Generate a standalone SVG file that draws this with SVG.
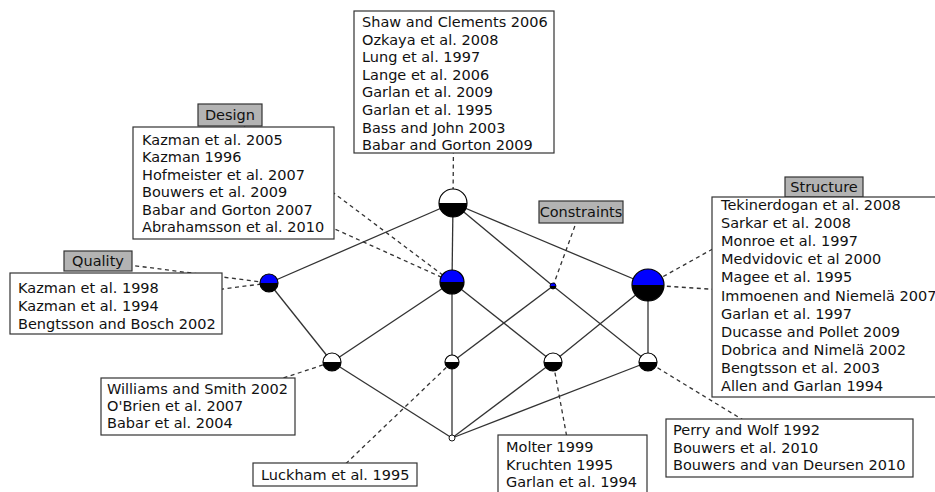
<svg xmlns="http://www.w3.org/2000/svg" width="935" height="492" viewBox="0 0 935 492">
<style>
.e{stroke:#333;stroke-width:1.3;fill:none}
.d{stroke:#333;stroke-width:1.3;fill:none;stroke-dasharray:4 3.5}
.box{fill:#fff;stroke:#333;stroke-width:1.2}
.lab{fill:#b3b3b3;stroke:#333;stroke-width:1.2}
text{font-family:"DejaVu Sans","Liberation Sans",sans-serif;font-size:14.5px;fill:#111}
.c{text-anchor:middle}
.w{fill:#fff}
.b{fill:#0000ff}
.k{fill:#000}
.o{fill:none;stroke:#000;stroke-width:1.2}
</style>
<rect width="935" height="492" fill="#fff"/>
<g id="connectors">
<line class="d" x1="454" y1="82" x2="453" y2="203"/>
<line class="d" x1="230" y1="115" x2="452" y2="282"/>
<line class="d" x1="233" y1="183" x2="452" y2="282"/>
<line class="d" x1="98" y1="261" x2="269" y2="283"/>
<line class="d" x1="116" y1="303" x2="269" y2="283"/>
<line class="d" x1="580" y1="212" x2="553" y2="286"/>
<line class="d" x1="824" y1="187" x2="648" y2="285"/>
<line class="d" x1="828" y1="297" x2="648" y2="285"/>
<line class="d" x1="198" y1="406" x2="332" y2="362"/>
<line class="d" x1="335" y1="474" x2="452" y2="362"/>
<line class="d" x1="572" y1="465" x2="553" y2="362"/>
<line class="d" x1="789" y1="448" x2="648" y2="362"/>
<line class="e" x1="453" y1="203" x2="269" y2="283"/>
<line class="e" x1="453" y1="203" x2="452" y2="282"/>
<line class="e" x1="453" y1="203" x2="553" y2="286"/>
<line class="e" x1="453" y1="203" x2="648" y2="285"/>
<line class="e" x1="269" y1="283" x2="332" y2="362"/>
<line class="e" x1="452" y1="282" x2="332" y2="362"/>
<line class="e" x1="452" y1="282" x2="452" y2="362"/>
<line class="e" x1="452" y1="282" x2="553" y2="362"/>
<line class="e" x1="553" y1="286" x2="452" y2="362"/>
<line class="e" x1="553" y1="286" x2="648" y2="362"/>
<line class="e" x1="648" y1="285" x2="553" y2="362"/>
<line class="e" x1="648" y1="285" x2="648" y2="362"/>
<line class="e" x1="332" y1="362" x2="452" y2="438"/>
<line class="e" x1="452" y1="362" x2="452" y2="438"/>
<line class="e" x1="553" y1="362" x2="452" y2="438"/>
<line class="e" x1="648" y1="362" x2="452" y2="438"/>
</g>
<g id="n-top">
<path class="w" d="M439,203 A14,14 0 0 1 467,203 Z"/>
<path class="k" d="M439,203 A14,14 0 0 0 467,203 Z"/>
<circle class="o" cx="453" cy="203" r="14"/>
</g>
<g id="n-quality">
<path class="b" d="M260,283 A9,9 0 0 1 278,283 Z"/>
<path class="k" d="M260,283 A9,9 0 0 0 278,283 Z"/>
<circle class="o" cx="269" cy="283" r="9"/>
</g>
<g id="n-design">
<path class="b" d="M440,282 A12,12 0 0 1 464,282 Z"/>
<path class="k" d="M440,282 A12,12 0 0 0 464,282 Z"/>
<circle class="o" cx="452" cy="282" r="12"/>
</g>
<g id="n-constraints">
<path class="b" d="M550,286 A3,3 0 0 1 556,286 Z"/>
<path class="k" d="M550,286 A3,3 0 0 0 556,286 Z"/>
<circle class="o" cx="553" cy="286" r="3" style="stroke-width:0.8"/>
</g>
<g id="n-structure">
<path class="b" d="M632,285 A16,16 0 0 1 664,285 Z"/>
<path class="k" d="M632,285 A16,16 0 0 0 664,285 Z"/>
<circle class="o" cx="648" cy="285" r="16"/>
</g>
<g id="n-ll">
<path class="w" d="M323,362 A9,9 0 0 1 341,362 Z"/>
<path class="k" d="M323,362 A9,9 0 0 0 341,362 Z"/>
<circle class="o" cx="332" cy="362" r="9"/>
</g>
<g id="n-lm1">
<path class="w" d="M445,362 A7,7 0 0 1 459,362 Z"/>
<path class="k" d="M445,362 A7,7 0 0 0 459,362 Z"/>
<circle class="o" cx="452" cy="362" r="7"/>
</g>
<g id="n-lm2">
<path class="w" d="M544,362 A9,9 0 0 1 562,362 Z"/>
<path class="k" d="M544,362 A9,9 0 0 0 562,362 Z"/>
<circle class="o" cx="553" cy="362" r="9"/>
</g>
<g id="n-lr">
<path class="w" d="M639,362 A9,9 0 0 1 657,362 Z"/>
<path class="k" d="M639,362 A9,9 0 0 0 657,362 Z"/>
<circle class="o" cx="648" cy="362" r="9"/>
</g>
<g id="n-bottom">
<circle cx="452" cy="438" r="3" fill="#fff" stroke="#000" stroke-width="0.9"/>
</g>
<g id="box-top">
<rect class="box" x="354" y="11" width="200" height="142"/>
<text x="362" y="27">Shaw and Clements 2006</text>
<text x="362" y="44.6">Ozkaya et al. 2008</text>
<text x="362" y="62.2">Lung et al. 1997</text>
<text x="362" y="79.8">Lange et al. 2006</text>
<text x="362" y="97.4">Garlan et al. 2009</text>
<text x="362" y="115">Garlan et al. 1995</text>
<text x="362" y="132.6">Bass and John 2003</text>
<text x="362" y="150.2">Babar and Gorton 2009</text>
</g>
<g id="lab-design">
<rect class="lab" x="198" y="104" width="64" height="22"/>
<text class="c" x="230" y="120">Design</text>
</g>
<g id="box-design">
<rect class="box" x="133" y="127" width="201" height="112"/>
<text x="142" y="145">Kazman et al. 2005</text>
<text x="142" y="162.4">Kazman 1996</text>
<text x="142" y="179.8">Hofmeister et al. 2007</text>
<text x="142" y="197.2">Bouwers et al. 2009</text>
<text x="142" y="214.6">Babar and Gorton 2007</text>
<text x="142" y="232">Abrahamsson et al. 2010</text>
</g>
<g id="lab-quality">
<rect class="lab" x="64" y="251" width="68" height="20"/>
<text class="c" x="98" y="266">Quality</text>
</g>
<g id="box-quality">
<rect class="box" x="10" y="273" width="212" height="61"/>
<text x="18" y="293">Kazman et al. 1998</text>
<text x="18" y="311">Kazman et al. 1994</text>
<text x="18" y="329">Bengtsson and Bosch 2002</text>
</g>
<g id="lab-constraints">
<rect class="lab" x="539" y="201" width="84" height="22"/>
<text class="c" x="581" y="217">Constraints</text>
</g>
<g id="lab-structure">
<rect class="lab" x="785" y="177" width="78" height="20"/>
<text class="c" x="824" y="192">Structure</text>
</g>
<g id="box-structure">
<rect class="box" x="712" y="197" width="232" height="200"/>
<text x="721" y="210">Tekinerdogan et al. 2008</text>
<text x="721" y="228.1">Sarkar et al. 2008</text>
<text x="721" y="246.2">Monroe et al. 1997</text>
<text x="721" y="264.3">Medvidovic et al 2000</text>
<text x="721" y="282.4">Magee et al. 1995</text>
<text x="721" y="300.5">Immoenen and Niemelä 2007</text>
<text x="721" y="318.6">Garlan et al. 1997</text>
<text x="721" y="336.7">Ducasse and Pollet 2009</text>
<text x="721" y="354.8">Dobrica and Nimelä 2002</text>
<text x="721" y="372.9">Bengtsson et al. 2003</text>
<text x="721" y="391">Allen and Garlan 1994</text>
</g>
<g id="box-ll">
<rect class="box" x="101" y="378" width="194" height="57"/>
<text x="107" y="394">Williams and Smith 2002</text>
<text x="107" y="411">O'Brien et al. 2007</text>
<text x="107" y="428">Babar et al. 2004</text>
</g>
<g id="box-lm1">
<rect class="box" x="253" y="463" width="164" height="23"/>
<text x="261" y="480">Luckham et al. 1995</text>
</g>
<g id="box-lm2">
<rect class="box" x="498" y="435" width="149" height="62"/>
<text x="506" y="452">Molter 1999</text>
<text x="506" y="469.5">Kruchten 1995</text>
<text x="506" y="487">Garlan et al. 1994</text>
</g>
<g id="box-lr">
<rect class="box" x="666" y="419" width="247" height="58"/>
<text x="673" y="435">Perry and Wolf 1992</text>
<text x="673" y="452.5">Bouwers et al. 2010</text>
<text x="673" y="470">Bouwers and van Deursen 2010</text>
</g>
</svg>
